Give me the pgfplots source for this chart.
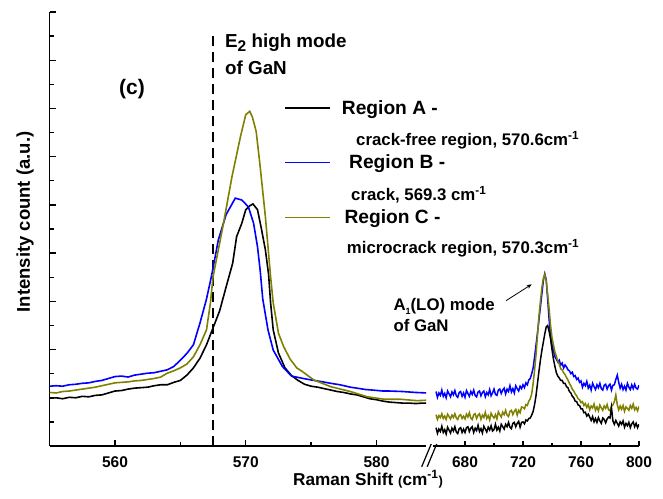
\documentclass[border=0pt]{standalone}
\usepackage{pgfplots}
\pgfplotsset{compat=1.18}
\usepackage{fontspec}
\setmainfont{Liberation Sans}
\usetikzlibrary{arrows.meta}
\definecolor{olivec}{RGB}{128,128,0}
\definecolor{blueb}{RGB}{0,0,255}
\newcommand{\fs}[1]{\fontsize{#1}{#1}\selectfont\bfseries}
\begin{document}
\begin{tikzpicture}
\path[use as bounding box] (0pt,0pt) rectangle (663pt,498pt);
% ---------------- left panel ----------------
\begin{axis}[
  at={(49.6pt,52pt)}, anchor=south west, scale only axis,
  width=376.6pt, height=434pt,
  xmin=555, xmax=583.8, ymin=0, ymax=9,
  axis x line*=bottom, axis y line*=left,
  axis line style={line width=1.6pt,-},
  xtick={560,570,580}, xticklabels={560,570,580},
  minor xtick={565,575},
  ytick={1,2,3,4,5,6,7,8,9}, yticklabels={},
  minor ytick={0.5,1.5,2.5,3.5,4.5,5.5,6.5,7.5,8.5},
  tick align=inside, major tick length=6pt, minor tick length=4pt,
  tick style={line width=1.3pt,black},
  xticklabel style={font=\fs{15.5}, yshift=-7pt},
  clip=true,
]
\addplot[black, line width=1.8pt, dash pattern=on 10pt off 6pt] coordinates {(567.5,0) (567.5,8.5)};
\addplot[black, line width=1.6pt] coordinates {
(555,0.99)(555.5,1.00)(556,0.98)(556.5,1.01)(557,1.00)(557.5,1.03)(558,1.02)(558.5,1.05)(559,1.06)(559.5,1.10)
(560,1.14)(560.5,1.15)(561,1.18)(561.5,1.20)(562,1.21)(562.5,1.22)(563,1.25)(563.5,1.27)(564,1.27)(564.5,1.32)
(565,1.36)(565.5,1.47)(566,1.62)(566.5,1.82)(567,2.10)(567.5,2.45)(568,2.80)(568.5,3.30)(569,3.79)(569.3,4.34)
(569.7,4.62)(570,4.90)(570.3,4.98)(570.55,5.02)(570.9,4.90)(571.2,4.50)(571.5,4.07)(571.75,3.55)(571.9,2.97)
(572.1,2.41)(572.5,1.93)(573,1.62)(573.5,1.46)(574,1.36)(574.5,1.28)(575,1.24)(575.5,1.22)(576,1.19)(576.5,1.16)
(577,1.13)(577.5,1.11)(578,1.08)(578.5,1.06)(579,1.02)(579.5,0.98)(580,0.96)(580.5,0.93)(581,0.91)(581.5,0.90)
(582,0.89)(582.5,0.89)(583,0.88)(583.5,0.89)(583.9,0.89)};
\addplot[blueb, line width=1.6pt] coordinates {
(555,1.24)(555.5,1.25)(556,1.24)(556.5,1.27)(557,1.28)(557.5,1.30)(558,1.31)(558.5,1.34)(559,1.36)(559.5,1.40)
(560,1.44)(560.5,1.45)(561,1.43)(561.5,1.47)(562,1.49)(562.5,1.51)(563,1.52)(563.5,1.55)(564,1.58)(564.5,1.65)
(565,1.78)(565.5,1.92)(566,2.10)(566.5,2.55)(567,3.05)(567.4,3.55)(567.9,4.27)(568.5,4.80)(569.2,5.14)(569.7,5.10)
(570.2,4.96)(570.6,4.62)(570.9,4.13)(571.1,3.65)(571.3,3.05)(571.7,2.41)(572.1,1.99)(572.8,1.65)(573.5,1.45)
(574.4,1.40)(575,1.37)(575.9,1.33)(576.5,1.30)(577.2,1.27)(578,1.22)(578.5,1.20)(579.2,1.17)(579.7,1.16)
(580.5,1.14)(581,1.14)(582,1.13)(583,1.11)(583.9,1.10)};
\addplot[olivec, line width=1.6pt] coordinates {
(555,1.11)(555.5,1.10)(556,1.13)(556.5,1.14)(557,1.16)(557.5,1.18)(558,1.20)(558.5,1.22)(559,1.25)(559.5,1.28)
(560,1.31)(560.5,1.32)(561,1.33)(561.5,1.35)(562,1.36)(562.5,1.38)(563,1.40)(563.5,1.43)(564,1.51)(564.5,1.56)
(565,1.62)(565.5,1.70)(566,1.85)(566.5,2.10)(567,2.41)(567.3,2.97)(567.5,3.51)(568.3,4.62)(568.95,5.59)
(569.6,6.42)(570.0,6.87)(570.3,6.94)(570.5,6.83)(570.8,6.52)(571.1,5.80)(571.5,4.76)(571.9,3.51)(572.1,2.97)
(572.5,2.34)(572.9,2.06)(573.4,1.80)(573.9,1.62)(574.3,1.55)(575.2,1.37)(576.5,1.23)(578.0,1.13)(579.3,1.02)
(580.6,0.97)(581.8,0.97)(583.1,0.94)(583.9,0.95)};
\end{axis}
% ---------------- right panel ----------------
\begin{axis}[
  at={(433.1pt,52pt)}, anchor=south west, scale only axis,
  width=205.9pt, height=434pt,
  xmin=658, xmax=800, ymin=0, ymax=9,
  axis x line*=bottom, axis y line=none,
  axis line style={line width=1.6pt,-},
  xtick={680,720,760,800}, xticklabels={680,720,760,800},
  minor xtick={700,740,780},
  ytick=\empty,
  tick align=inside, major tick length=5pt, minor tick length=3pt,
  tick style={line width=1.3pt,black},
  xticklabel style={font=\fs{15.5}, yshift=-7pt},
  clip=true,
]
\addplot[blueb, line width=1.5pt] coordinates {
(660,1.13)(661,1.01)(662,1.10)(663,1.05)(664,1.16)(665,1.03)(666,1.09)(667,1.00)(668,1.14)(669,1.08)
(670,1.02)(671,1.12)(672,1.06)(673,1.15)(674,1.04)(675,1.01)(676,1.11)(677,1.13)(678,1.03)(679,1.10)
(680,1.01)(681,1.15)(682,1.09)(683,1.03)(684,1.13)(685,1.07)(686,1.16)(687,1.05)(688,1.02)(689,1.12)
(690,1.14)(691,1.04)(692,1.11)(693,1.14)(694,1.02)(695,1.11)(696,1.06)(697,1.17)(698,1.04)(699,1.10)
(700,1.18)(701,1.07)(702,1.05)(703,1.16)(704,1.18)(705,1.09)(706,1.16)(707,1.20)(708,1.08)(709,1.18)
(710,1.13)(711,1.25)(712,1.12)(713,1.19)(714,1.10)(715,1.25)(716,1.19)(717,1.14)(718,1.24)(719,1.19)
(720,1.27)(721,1.21)(722,1.31)(723,1.27)(724,1.37)(725,1.40)
(726,1.50)(727,1.62)(728,1.85)(729,2.10)(730,2.35)(731,2.62)(732,2.88)(733,3.15)(734,3.42)(735,3.57)(736,3.45)
(737,3.05)(738,2.62)(739,2.30)(740,2.10)(741,1.98)(742,1.85)(743,1.80)(744,1.74)(745,1.78)(746,1.68)(747,1.72)
(748,1.62)(749,1.68)(750,1.64)(751,1.58)(752,1.56)(753,1.50)(754,1.53)(755,1.44)(756,1.46)(757,1.38)(758,1.41)
(759,1.32)(760,1.35)(761,1.22)(762,1.30)(763,1.25)(764,1.34)(765,1.20)(766,1.26)(767,1.16)(768,1.30)(769,1.23)
(770,1.17)(771,1.27)(772,1.21)(773,1.30)(774,1.19)(775,1.16)(776,1.26)(777,1.28)(778,1.18)(779,1.25)
(780,1.28)(781,1.16)(782,1.26)(783,1.27)(784,1.38)(785,1.47)(786,1.32)(787,1.20)(788,1.28)(789,1.17)
(790,1.24)(791,1.16)(792,1.30)(793,1.22)(794,1.17)(795,1.27)(796,1.19)(797,1.28)(798,1.20)(799,1.18)(800,1.26)};
\addplot[olivec, line width=1.5pt] coordinates {
(660,0.65)(661,0.55)(662,0.63)(663,0.59)(664,0.67)(665,0.57)(666,0.62)(667,0.55)(668,0.66)(669,0.61)
(670,0.56)(671,0.64)(672,0.59)(673,0.67)(674,0.58)(675,0.55)(676,0.63)(677,0.65)(678,0.57)(679,0.62)
(680,0.56)(681,0.66)(682,0.60)(683,0.69)(684,0.58)(685,0.55)(686,0.65)(687,0.67)(688,0.57)(689,0.64)
(690,0.67)(691,0.55)(692,0.64)(693,0.59)(694,0.70)(695,0.57)(696,0.63)(697,0.54)(698,0.68)(699,0.62)
(700,0.58)(701,0.65)(702,0.56)(703,0.71)(704,0.65)(705,0.60)(706,0.70)(707,0.65)(708,0.74)(709,0.64)
(710,0.61)(711,0.72)(712,0.74)(713,0.65)(714,0.72)(715,0.76)(716,0.64)(717,0.74)(718,0.69)(719,0.81)
(720,0.80)(721,0.77)(722,0.86)(723,0.84)(724,0.93)(725,0.98)
(726,1.08)(727,1.30)(728,1.58)(729,1.90)(730,2.30)(731,2.70)(732,3.00)(733,3.28)(734,3.48)(735,3.56)(736,3.42)
(737,3.15)(738,2.85)(739,2.50)(740,2.25)(741,2.10)(742,1.95)(743,1.86)(744,1.75)(745,1.70)(746,1.60)(747,1.58)
(748,1.52)(749,1.48)(750,1.42)(751,1.37)(752,1.30)(753,1.25)(754,1.18)(755,1.14)(756,1.08)(757,1.04)(758,0.98)
(759,0.96)(760,0.90)(761,0.92)(762,0.84)(763,0.88)(764,0.80)
(765,0.86)(766,0.75)(767,0.83)(768,0.79)(769,0.87)(770,0.74)(771,0.81)(772,0.73)(773,0.85)(774,0.79)
(775,0.74)(776,0.83)(777,0.78)(778,0.86)(779,0.75)(780,0.73)(781,0.83)(782,0.85)(783,0.92)(784,1.06)
(785,0.86)(786,0.75)(787,0.83)(788,0.76)(789,0.84)(790,0.72)(791,0.81)(792,0.78)(793,0.74)(794,0.84)
(795,0.78)(796,0.87)(797,0.75)(798,0.80)(799,0.73)(800,0.82)};
\addplot[black, line width=1.5pt] coordinates {
(660,0.38)(661,0.26)(662,0.35)(663,0.30)(664,0.41)(665,0.28)(666,0.34)(667,0.25)(668,0.39)(669,0.33)
(670,0.27)(671,0.37)(672,0.31)(673,0.40)(674,0.29)(675,0.26)(676,0.36)(677,0.38)(678,0.28)(679,0.35)
(680,0.28)(681,0.38)(682,0.40)(683,0.30)(684,0.37)(685,0.40)(686,0.28)(687,0.37)(688,0.32)(689,0.43)
(690,0.30)(691,0.36)(692,0.27)(693,0.41)(694,0.35)(695,0.29)(696,0.39)(697,0.33)(698,0.42)(699,0.31)
(700,0.34)(701,0.45)(702,0.33)(703,0.39)(704,0.31)(705,0.45)(706,0.40)(707,0.35)(708,0.45)(709,0.40)
(710,0.49)(711,0.39)(712,0.36)(713,0.47)(714,0.49)(715,0.40)(716,0.47)(717,0.51)(718,0.39)(719,0.49)
(720,0.50)(721,0.46)(722,0.54)(723,0.52)(724,0.57)(725,0.58)
(726,0.64)(727,0.72)(728,0.86)(729,1.05)(730,1.30)(731,1.55)(732,1.78)(733,1.98)(734,2.15)(735,2.32)(736,2.47)
(737,2.50)(738,2.38)(739,2.22)(740,2.00)(741,1.80)(742,1.65)(743,1.52)(744,1.45)(745,1.41)(746,1.36)(747,1.36)
(748,1.30)(749,1.30)(750,1.23)(751,1.21)(752,1.13)(753,1.10)(754,1.03)(755,1.00)(756,0.93)(757,0.92)(758,0.85)
(759,0.84)(760,0.77)(761,0.77)(762,0.69)(763,0.70)(764,0.62)(765,0.66)
(766,0.60)(767,0.53)(768,0.61)(769,0.50)(770,0.57)(771,0.49)(772,0.59)(773,0.52)(774,0.47)(775,0.58)
(776,0.55)(777,0.48)(778,0.56)(779,0.60)(780,0.58)(781,0.80)(782,0.52)(783,0.45)(784,0.53)(785,0.47)
(786,0.41)(787,0.50)(788,0.45)(789,0.52)(790,0.39)(791,0.47)(792,0.42)(793,0.49)(794,0.38)(795,0.46)
(796,0.50)(797,0.40)(798,0.47)(799,0.38)(800,0.45)};
\end{axis}
% axis break marks
\draw[line width=1.2pt] (421.7pt,31.3pt) -- (431.2pt,54pt);
\draw[line width=1.2pt] (427.2pt,31.3pt) -- (436.7pt,54pt);
% axis labels
\node[anchor=base, inner sep=0pt] at (368pt,13pt) {\fs{17.2}Raman Shift {\fs{13}(}cm\textsuperscript{-1}{\fs{13})}};
\node[rotate=90, inner sep=0pt] at (25pt,276pt) {\fs{18.5}Intensity count (a.u.)};
% annotations
\node[inner sep=0pt] at (132pt,409pt) {\fs{21}(c)};
\node[anchor=base west, inner sep=0pt] at (225pt,450pt) {\fs{18.8}E\raisebox{-0.35ex}{\fs{15.5}2} high mode};
\node[anchor=base west, inner sep=0pt] at (225pt,423pt) {\fs{18.8}of GaN};
\node[anchor=base west, inner sep=0pt] at (393.3pt,187.3pt) {\fs{16.8}A\raisebox{-0.4ex}{\fs{9}1}(LO) mode};
\node[anchor=base west, inner sep=0pt] at (393.3pt,166.3pt) {\fs{16.8}of GaN};
\draw[-{Stealth[length=5pt,width=4pt]}, line width=0.8pt] (506pt,197.3pt) -- (531.7pt,213.7pt);
% legend
\draw[black, line width=1.6pt] (285pt,390pt) -- (330pt,390pt);
\draw[blueb, line width=1.6pt] (285pt,335.3pt) -- (330pt,335.3pt);
\draw[olivec, line width=1.6pt] (285pt,280.3pt) -- (330pt,280.3pt);
\node[anchor=base west, inner sep=0pt] at (341.7pt,383pt) {\fs{19.2}Region A -};
\node[anchor=base west, inner sep=0pt] at (356pt,352pt) {\fs{16.8}crack-free region, 570.6cm\textsuperscript{-1}};
\node[anchor=base west, inner sep=0pt] at (349pt,329.7pt) {\fs{19.2}Region B -};
\node[anchor=base west, inner sep=0pt] at (351pt,297.3pt) {\fs{16.8}crack, 569.3 cm\textsuperscript{-1}};
\node[anchor=base west, inner sep=0pt] at (344.3pt,274.7pt) {\fs{19.2}Region C -};
\node[anchor=base west, inner sep=0pt] at (346.7pt,244pt) {\fs{16.8}microcrack region, 570.3cm\textsuperscript{-1}};
\end{tikzpicture}
\end{document}
